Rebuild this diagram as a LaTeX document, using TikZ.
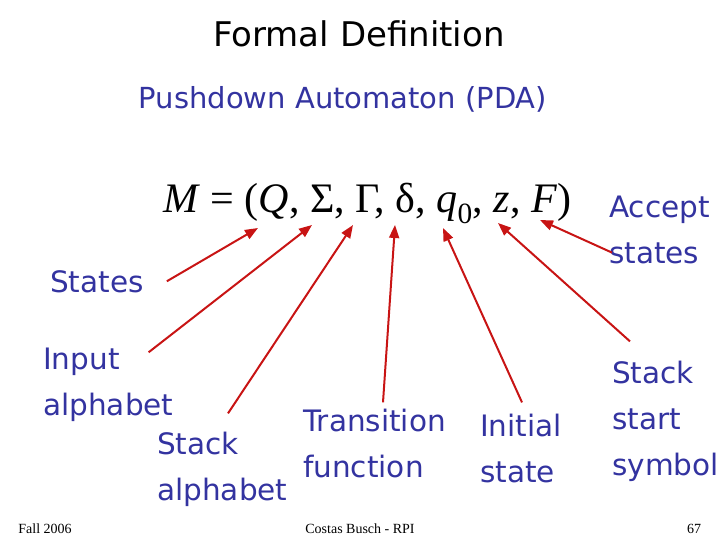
\documentclass[tikz,border=0pt]{standalone}
\usepackage[no-math]{fontspec}
\setmainfont{DejaVu Sans}
\newfontfamily\timesfont{Liberation Serif}
\usetikzlibrary{arrows.meta}

\definecolor{labelblue}{RGB}{51,51,160}
\definecolor{arrowred}{RGB}{200,20,20}

\tikzset{
  label/.style={labelblue,inner sep=0pt,align=left,anchor=base west,
    font=\fontsize{29.5}{46}\selectfont},
  pointer/.style={arrowred,line width=2pt,-{Triangle[length=13pt,width=10pt]}},
  footer/.style={inner sep=0pt,anchor=base,font=\timesfont\fontsize{14}{16}\selectfont}
}

\begin{document}
\begin{tikzpicture}[x=1pt,y=-1pt]
    \useasboundingbox (0,0) rectangle (720,540);
    % Titel og undertitel
    \node[inner sep=0pt,anchor=base,font=\fontsize{34}{40}\selectfont] (title) at (359,47) {Formal Definition};
    \node[labelblue,inner sep=0pt,anchor=base,font=\fontsize{29}{35}\selectfont] (pda) at (343,109) {Pushdown Automaton (PDA)};
    % Tuplen
    \node[inner sep=0pt,anchor=base west,font=\timesfont\fontsize{42}{50}\selectfont] (tuple) at (163,213)
      {\textit{M} = (\textit{Q}, Σ, Γ, δ, \textit{q}\textsubscript{0}, \textit{z}, \textit{F})};
    % Pilespidser ved symbolerne
    \coordinate (tipQ) at (258,228);
    \coordinate (tipSigma) at (312,225);
    \coordinate (tipGamma) at (353,225);
    \coordinate (tipDelta) at (395,225);
    \coordinate (tipq) at (443,228);
    \coordinate (tipz) at (498,223);
    \coordinate (tipF) at (540,220);
    % Forklaringer (base = sidste linje)
    \node[label] (accept) at (609,263) {Accept\\states};
    \node[label] (states) at (50,292) {States};
    \node[label] (inalpha) at (43,415) {Input\\alphabet};
    \node[label] (stalpha) at (157,500) {Stack\\alphabet};
    \node[label] (trans) at (303,477) {Transition\\function};
    \node[label] (init) at (480,482) {Initial\\state};
    \node[label] (ststart) at (612,475) {Stack\\start\\symbol};
    % Pile
    \draw[pointer] ([xshift=23pt]states.east) -- (tipQ);
    \draw[pointer] ([xshift=-25pt,yshift=-5pt]inalpha.north east) -- (tipSigma);
    \draw[pointer] ([xshift=71pt,yshift=18pt]stalpha.north west) -- (tipGamma);
    \draw[pointer] ([xshift=80pt,yshift=6pt]trans.north west) -- (tipDelta);
    \draw[pointer] ([xshift=42pt,yshift=11pt]init.north west) -- (tipq);
    \draw[pointer] ([xshift=18pt,yshift=19pt]ststart.north west) -- (tipz);
    \draw[pointer] ([xshift=3pt,yshift=11pt]accept.south west) -- (tipF);
    % Sidefod
    \node[footer] (term) at (45,533) {Fall 2006};
    \node[footer] (author) at (360,533) {Costas Busch - RPI};
    \node[footer] (page) at (694,533) {67};
  \end{tikzpicture}
\end{document}
